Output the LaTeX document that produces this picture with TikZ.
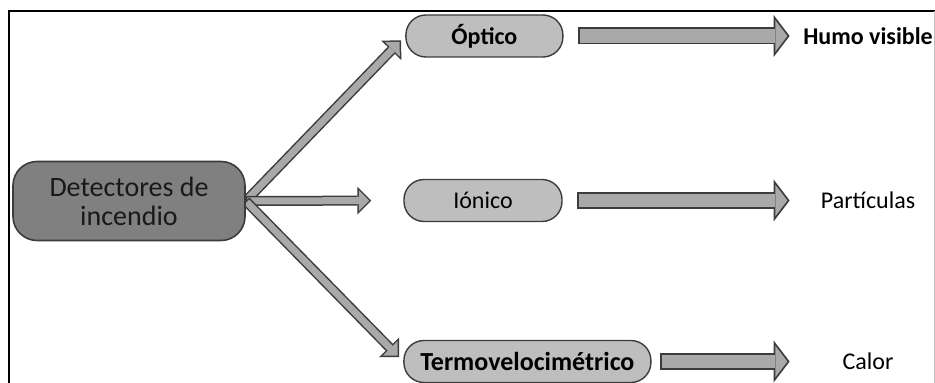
\documentclass[tikz,border=0pt]{standalone}
\usepackage{fontspec}
\setmainfont{Carlito}
\usetikzlibrary{arrows.meta,backgrounds}

\definecolor{edgegray}{HTML}{3C3C3C}
\definecolor{darkfill}{HTML}{808080}
\definecolor{lightfill}{HTML}{BEBEBE}
\definecolor{arrowfill}{HTML}{A9A9A9}

\tikzset{
  mainbox/.style={draw=edgegray, fill=darkfill, line width=0.8pt, rounded corners=12pt,
    minimum width=116pt, minimum height=39.5pt, align=center, text=black!90,
    font=\fontsize{14}{14.5}\selectfont},
  leafbox/.style={draw=edgegray, fill=lightfill, line width=0.7pt, rounded corners=10pt,
    minimum height=21pt, inner sep=0pt, font=\fontsize{12}{14}\selectfont},
  effect/.style={minimum width=65pt, inner sep=0pt, font=\fontsize{12}{14}\selectfont},
  % outlined arrows: dark stroke, grey stroke on top
  thinarrow/.style 2 args={draw=edgegray, line width=5pt, shorten <=#1, shorten >=#2,
    -{Triangle[width=14pt,length=7pt,line width=0pt]},
    postaction={draw=arrowfill, line width=3.5pt, shorten <=#1+0.75pt, shorten >=#2+1.06pt,
    -{Triangle[width=10.4pt,length=5.2pt,line width=0pt]}}},
  bigarrow/.style 2 args={draw=edgegray, line width=8.5pt, shorten <=#1, shorten >=#2,
    -{Triangle[width=21pt,length=8pt,line width=0pt]},
    postaction={draw=arrowfill, line width=6.7pt, shorten <=#1+0.9pt, shorten >=#2+1.13pt,
    -{Triangle[width=15.7pt,length=5.97pt,line width=0pt]}}}
}

\begin{document}
\begin{tikzpicture}[x=0.5pt,y=-0.5pt]
  \useasboundingbox (0,0) rectangle (935,383);

  % frame
  \draw[line width=1.4pt] (9,383) -- (9,11) -- (935,11);
  \draw[black!25, line width=0.5pt] (934,11) -- (934,383);

  \node[mainbox] (det) at (129,201) {Detectores de\\incendio};

  \node[leafbox, minimum width=78.5pt, font=\fontsize{12}{14}\selectfont\bfseries] (opt) at (484.4,36) {Óptico};
  \node[leafbox, minimum width=79pt] (ion) at (483,200.5) {Iónico};
  \node[leafbox, minimum width=123.5pt, font=\fontsize{13}{14}\selectfont\bfseries] (termo) at (527.4,361.5) {Termovelocimétrico};

  \node[effect, font=\fontsize{12}{14}\selectfont\bfseries] (humo) at (868,36) {Humo visible};
  \node[effect] (part) at (868,200.5) {Partículas};
  \node[effect] (calor) at (868,361.5) {Calor};

  \begin{scope}[on background layer]
    \draw[thinarrow={0pt}{3pt}] (det.east) -- (opt.west);
    \draw[thinarrow={0pt}{16pt}] (det.east) -- (ion.west);
    \draw[thinarrow={0pt}{3pt}] (det.east) -- (termo.west);
  \end{scope}

  \draw[bigarrow={7.3pt}{6.5pt}] (opt.east) -- (humo.west);
  \draw[bigarrow={7.3pt}{6.5pt}] (ion.east) -- (part.west);
  \draw[bigarrow={4.4pt}{6.5pt}] (termo.east) -- (calor.west);
\end{tikzpicture}
\end{document}
